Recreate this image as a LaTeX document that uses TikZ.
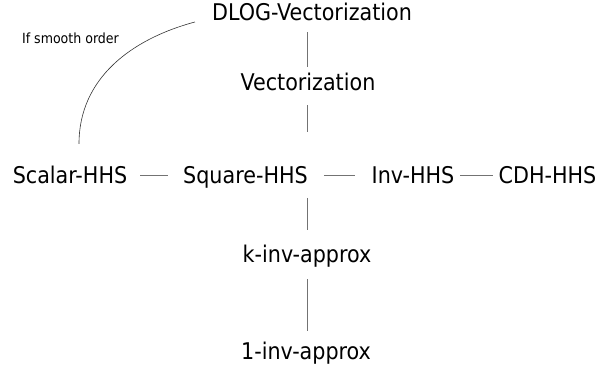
\documentclass[tikz,border=0pt]{standalone}
\usepackage{fontspec}
\setmainfont{DejaVu Sans Condensed}
\begin{document}
\begin{tikzpicture}[x=1pt,y=1pt,
    every node/.style={inner sep=0pt, text height=17pt, text depth=0pt,
      font=\fontsize{23}{27}\selectfont},
    link/.style={draw=black!55, line width=0.7pt}]
  \useasboundingbox (0,0) rectangle (599,-371);
  \draw
    (312,-11.7) node (dlog){DLOG-Vectorization}
    (308,-82) node (vec){Vectorization}
    (70,-175.5) node (scalar){Scalar-HHS}
    (245.5,-175.5) node (sq){Square-HHS}
    (413,-175.5) node (inv){Inv-HHS}
    (547.5,-175.5) node (cdh){CDH-HHS}
    (307,-253.5) node (kinv){k-inv-approx}
    (306,-351) node (oneinv){1-inv-approx};
  \node[text height=10pt, font=\fontsize{14}{17}\selectfont] (smooth) at (70.5,-39) {If smooth order};
  \begin{scope}[link]
    \draw[shorten <=12pt, shorten >=6.5pt] (kinv |- dlog.south) to (kinv |- vec.north);
    \draw[shorten <=14.5pt, shorten >=43.5pt] (kinv |- vec.south) to (sq -| kinv);
    \draw[shorten <=22.5pt, shorten >=15pt] (sq -| kinv) to (kinv);
    \draw[shorten <=17pt, shorten >=11.5pt] (kinv) to (kinv |- oneinv.north);
    \draw[shorten <=13pt, shorten >=15pt] (scalar) to (sq);
    \draw[shorten <=16pt, shorten >=17pt] (sq) to (inv);
    \draw[shorten <=6pt, shorten >=5pt] (inv) to (cdh);
  \end{scope}
  \draw[black!80, line width=0.6pt] ([shift={(-17,-10.3)}]dlog.west) to[out=195, in=90] ([shift={(9,23)}]scalar.north);
\end{tikzpicture}
\end{document}
